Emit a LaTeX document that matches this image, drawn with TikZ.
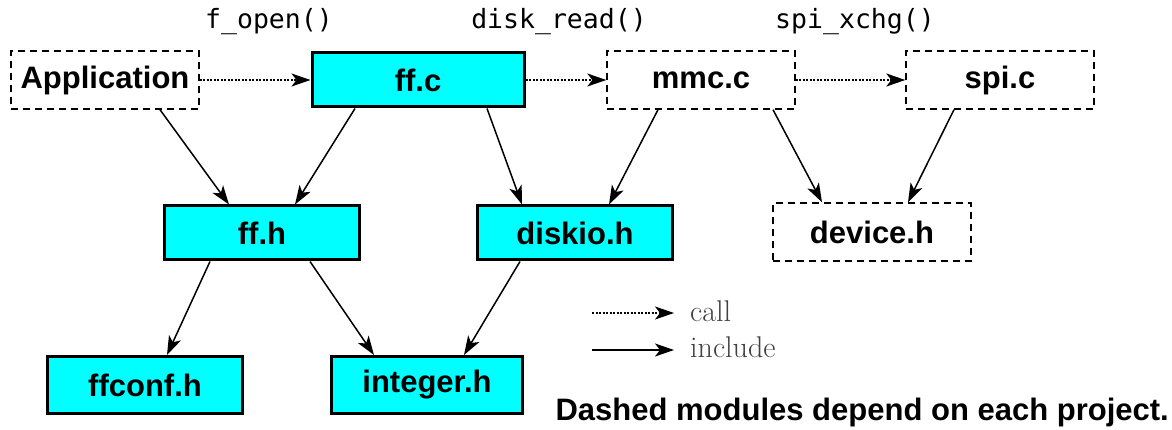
\documentclass[tikz,border=0pt]{standalone}
\usepackage{fontspec}
\usetikzlibrary{arrows.meta}
\newfontfamily\boxfont{Liberation Sans}
\newfontfamily\codefont{DejaVu Sans Mono}
\definecolor{modcyan}{RGB}{0,255,255}
\tikzset{
  modbox/.style={draw,line width=3pt,fill=modcyan,minimum width=195pt,minimum height=54pt,inner sep=0pt,font=\boxfont\bfseries\fontsize{31}{36}\selectfont},
  projbox/.style={draw,dashed,dash pattern=on 7pt off 5pt,line width=1.4pt,minimum width=188pt,minimum height=58pt,inner sep=0pt,font=\boxfont\bfseries\fontsize{31}{36}\selectfont},
  fname/.style={font=\codefont\fontsize{26.5}{30}\selectfont,inner sep=0pt},
  callarr/.style={line width=1.2pt,dash pattern=on 2pt off 1.5pt,-{Stealth[length=19pt,width=13pt,inset=5pt]}},
  inclarr/.style={line width=1.5pt,-{Stealth[length=19pt,width=13pt,inset=5pt]}}
}
\begin{document}
\begin{tikzpicture}[x=1pt,y=-1pt]
\useasboundingbox (0,0) rectangle (1172,430);
% modules
\node[projbox] (app) at (105,80) {Application};
\node[modbox,minimum width=212pt] (ffc) at (418,80) {ff.c};
\node[projbox] (mmc) at (701,80) {mmc.c};
\node[projbox] (spi) at (1000,80) {spi.c};
\node[modbox] (ffh) at (262,233) {ff.h};
\node[modbox] (diskio) at (575,233) {diskio.h};
\node[projbox,minimum width=198pt] (device) at (872,232) {device.h};
\node[modbox,minimum height=57pt] (ffconf) at (145,385) {ffconf.h};
\node[modbox,minimum width=191pt,minimum height=57pt] (integer) at (427,385) {integer.h};
% function names
\node[fname] (fopen) at (269,22) {f\_open()};
\node[fname] (dread) at (559,22) {disk\_read()};
\node[fname] (sxchg) at (855,22) {spi\_xchg()};
% calls
\draw[callarr] (app) -- (ffc);
\draw[callarr] (ffc) -- (mmc);
\draw[callarr] (mmc) -- (spi);
% includes
\draw[inclarr] ([xshift=55pt]app.south) -- ([xshift=-33pt]ffh.north);
\draw[inclarr] ([xshift=-63pt]ffc.south) -- ([xshift=33pt]ffh.north);
\draw[inclarr] ([xshift=69pt]ffc.south) -- ([xshift=-53pt]diskio.north);
\draw[inclarr] ([xshift=-43pt]mmc.south) -- ([xshift=34pt]diskio.north);
\draw[inclarr] ([xshift=72pt]mmc.south) -- ([xshift=-50pt]device.north);
\draw[inclarr] ([xshift=-46pt]spi.south) -- ([xshift=36pt]device.north);
\draw[inclarr] ([xshift=-52pt]ffh.south) -- ([xshift=22pt]ffconf.north);
\draw[inclarr] ([xshift=48pt]ffh.south) -- ([xshift=-53pt]integer.north);
\draw[inclarr] ([xshift=-55pt]diskio.south) -- ([xshift=37pt]integer.north);
% legend
\coordinate (callA) at (592,313);
\coordinate (callB) at (674,313);
\coordinate (inclA) at (592,350);
\coordinate (inclB) at (674,350);
\draw[callarr] (callA) -- (callB);
\draw[inclarr] (inclA) -- (inclB);
\node[anchor=west,inner sep=0pt,text=black!75,font=\fontsize{30}{36}\selectfont] (calltxt) at (690,311) {call};
\node[anchor=west,inner sep=0pt,text=black!75,font=\fontsize{30}{36}\selectfont] (incltxt) at (690,347) {include};
\node[anchor=east,inner sep=0pt,font=\boxfont\bfseries\fontsize{31}{36}\selectfont] (note) at (1169,412) {Dashed modules depend on each project.};
\end{tikzpicture}
\end{document}
